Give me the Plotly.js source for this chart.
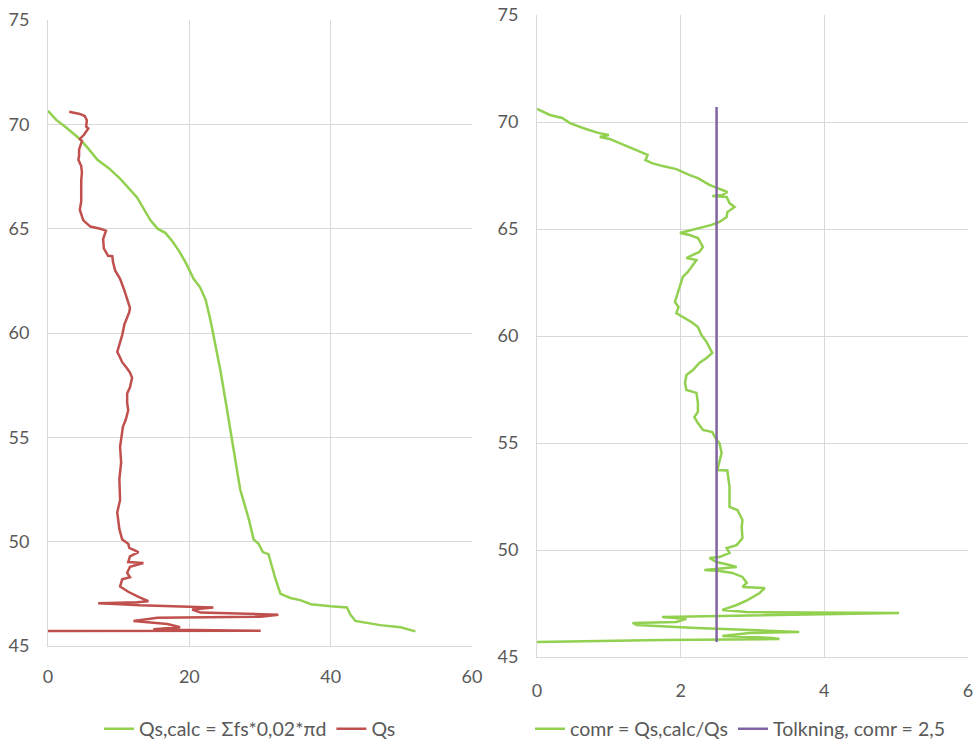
<!DOCTYPE html>
<html>
<head>
<meta charset="utf-8">
<script src="https://cdn.plot.ly/plotly-3.0.1.min.js"></script>
<style>html,body{margin:0;padding:0;background:#fff;}#chart{width:977px;height:741px;}</style>
</head>
<body>
<div id="chart"></div>
<script>
// Left chart: Qs,calc (green)
const qsCalcDepth = [70.65,70.2,69.9,69.3,68.8,68.3,67.9,67.4,66.5,65.4,65.0,64.8,64.4,63.9,63.3,62.6,62.2,61.6,60.6,59.4,58.2,56.8,55.4,53.9,52.5,51.1,50.1,49.9,49.5,49.4,48.2,47.5,47.3,47.2,47.0,46.9,46.85,46.5,46.2,46.0,45.9,45.7];
const qsCalc = [0,1.2,2.4,4.5,5.8,7,8.6,10.2,12.6,14.5,15.5,16.6,17.6,18.6,19.6,20.6,21.5,22.3,23.0,23.7,24.4,25.1,25.8,26.5,27.2,28.4,29.1,29.8,30.4,31.2,32.2,32.9,34.3,35.7,37.2,40,42.3,42.8,43.5,47,49.9,52];

// Left chart: Qs (red)
const qsDepth = [70.6,70.5,70.4,70.2,69.9,69.8,69.5,69.3,69.2,68.8,68.5,68.3,68.0,67.7,67.3,66.8,66.3,65.9,65.4,65.1,65.0,64.9,64.5,64.05,63.7,63.68,63.4,63.0,62.6,62.05,61.7,61.5,61.2,61.0,60.7,60.4,59.9,59.4,59.1,58.9,58.6,58.3,58.1,57.85,57.4,57.1,56.65,56.3,55.84,55.5,54.55,53.8,53.0,52.0,51.4,50.6,50.1,49.9,49.7,49.5,49.3,49.02,48.98,48.8,48.5,48.3,48.2,47.85,47.6,47.35,47.15,47.1,47.05,47.0,46.95,46.85,46.75,46.6,46.5,46.4,46.35,46.2,46.15,46.05,45.9,45.8,45.78,45.73,45.72];
const qs = [3.0,4.5,5.2,5.5,5.4,5.7,5.1,4.5,4.8,4.4,4.4,4.3,4.7,4.8,4.7,4.7,4.7,4.5,5.0,6.0,7.4,8.2,7.8,7.9,8.5,9.1,9.2,9.5,10.2,10.8,11.1,11.35,11.6,11.5,11.1,10.8,10.5,10.1,9.8,10.1,10.5,11.2,11.6,11.9,11.6,11.2,11.2,11.35,11.0,10.6,10.2,10.35,10.1,10.2,9.8,10.1,10.5,11.35,11.5,12.8,11.6,11.35,13.5,11.6,11.2,11.6,10.5,10.2,11.35,12.8,14.2,12.6,7.1,10.2,13.0,23.4,20.4,21.6,32.6,30.1,15.5,12.1,14.0,16.9,18.7,14.9,17.7,30.1,0];

// Right chart: comr (green)
const comrDepth = [70.61,70.33,70.19,69.95,69.72,69.49,69.39,69.30,69.21,69.02,68.83,68.55,68.46,68.22,68.08,67.94,67.80,67.52,67.38,67.06,66.92,66.73,66.59,66.54,66.50,66.21,66.03,65.79,65.56,65.33,65.19,65.05,64.91,64.81,64.72,64.58,64.16,63.93,63.79,63.64,63.55,63.32,62.99,62.76,62.29,62.01,61.59,61.36,61.07,60.89,60.65,60.42,60.05,59.72,59.44,59.21,58.97,58.74,58.41,58.18,57.80,57.48,57.34,56.87,56.45,56.21,55.93,55.61,55.51,55.14,55.0,54.53,53.74,53.72,52.94,52.01,51.87,51.40,51.07,50.56,50.23,50.09,49.86,49.67,49.63,49.44,49.30,49.21,49.07,49.02,48.93,48.74,48.46,48.27,48.22,47.99,47.66,47.43,47.20,47.10,47.06,46.96,46.87,46.78,46.64,46.59,46.50,46.36,46.21,46.17,46.12,45.98,45.89,45.84,45.79,45.70];
const comr = [0.0,0.18,0.35,0.46,0.64,0.85,1.0,0.875,1.01,1.15,1.29,1.5,1.54,1.51,1.6,1.75,1.94,2.125,2.24,2.4,2.51,2.65,2.58,2.44,2.64,2.68,2.75,2.65,2.64,2.54,2.43,2.26,2.125,1.99,2.125,2.24,2.31,2.26,2.17,2.08,2.22,2.17,2.1,2.03,1.99,1.96,1.92,1.97,1.94,2.03,2.15,2.24,2.29,2.36,2.4,2.44,2.36,2.26,2.17,2.08,2.06,2.08,2.22,2.24,2.24,2.19,2.24,2.31,2.44,2.5,2.54,2.57,2.51,2.65,2.68,2.68,2.79,2.86,2.85,2.86,2.78,2.64,2.68,2.54,2.4,2.5,2.68,2.78,2.33,2.54,2.72,2.86,2.92,2.86,3.17,3.1,2.93,2.78,2.58,2.92,5.04,3.51,1.74,2.08,1.94,1.33,1.39,2.22,3.24,3.65,2.96,2.58,3.28,3.375,1.75,0.0];

// Right chart: interpretation line (purple)
const tolkDepth = [70.7,45.7];
const tolk = [2.5,2.5];

const xTicksLeft = [0,20,40,60];
const xTicksRight = [0,2,4,6];
const yTicks = [45,50,55,60,65,70,75];

const GREEN = '#92D050', RED = '#C0504D', PURPLE = '#8064A2';
const GRID = '#d9d9d9', TXT = '#595959';
const FONT = 'Lato, "Open Sans", sans-serif';

const traces = [
  {x: qsCalc, y: qsCalcDepth, xaxis:'x', yaxis:'y', mode:'lines', name:'Qs,calc = Σfs*0,02*πd',
   line:{color:GREEN, width:2.5}, legend:'legend'},
  {x: qs, y: qsDepth, xaxis:'x', yaxis:'y', mode:'lines', name:'Qs',
   line:{color:RED, width:2.5}, legend:'legend'},
  {x: comr, y: comrDepth, xaxis:'x2', yaxis:'y2', mode:'lines', name:'comr = Qs,calc/Qs',
   line:{color:GREEN, width:2.5}, legend:'legend2'},
  {x: tolk, y: tolkDepth, xaxis:'x2', yaxis:'y2', mode:'lines', name:'Tolkning, comr = 2,5',
   line:{color:PURPLE, width:2.5}, legend:'legend2'}
];

function ax(extra){
  return Object.assign({
    showgrid:true, gridcolor:GRID, gridwidth:1, zeroline:false,
    showline:true, linecolor:GRID, linewidth:1, ticks:'',
    tickfont:{family:FONT, size:18, color:TXT}, tickmode:'array', fixedrange:true, automargin:false
  }, extra);
}

const legendBase = {
  orientation:'h', yref:'container', y:12/741, yanchor:'middle', xanchor:'center',
  font:{family:FONT, size:19.5, color:TXT}, bgcolor:'rgba(0,0,0,0)', itemwidth:30, tracegroupgap:0
};

const layout = {
  width:977, height:741,
  margin:{l:0, r:0, t:0, b:0, autoexpand:false},
  paper_bgcolor:'#fff', plot_bgcolor:'#fff',
  showlegend:true,
  xaxis: ax({domain:[48/977, 472/977], range:[0,60], tickvals:xTicksLeft, anchor:'y', ticklabelstandoff:14}),
  yaxis: ax({domain:[95/741, 721/741], range:[45,75], tickvals:yTicks, anchor:'x', ticklabelstandoff:14}),
  xaxis2: ax({domain:[537/977, 968/977], range:[0,6], tickvals:xTicksRight, anchor:'y2', ticklabelstandoff:17}),
  yaxis2: ax({domain:[84/741, 726/741], range:[45,75], tickvals:yTicks, anchor:'x2', ticklabelstandoff:14}),
  legend: Object.assign({}, legendBase, {x:250/977, xref:'paper'}),
  legend2: Object.assign({}, legendBase, {x:740/977, xref:'paper'})
};

Plotly.newPlot('chart', traces, layout, {displayModeBar:false, staticPlot:true});
</script>
</body>
</html>
